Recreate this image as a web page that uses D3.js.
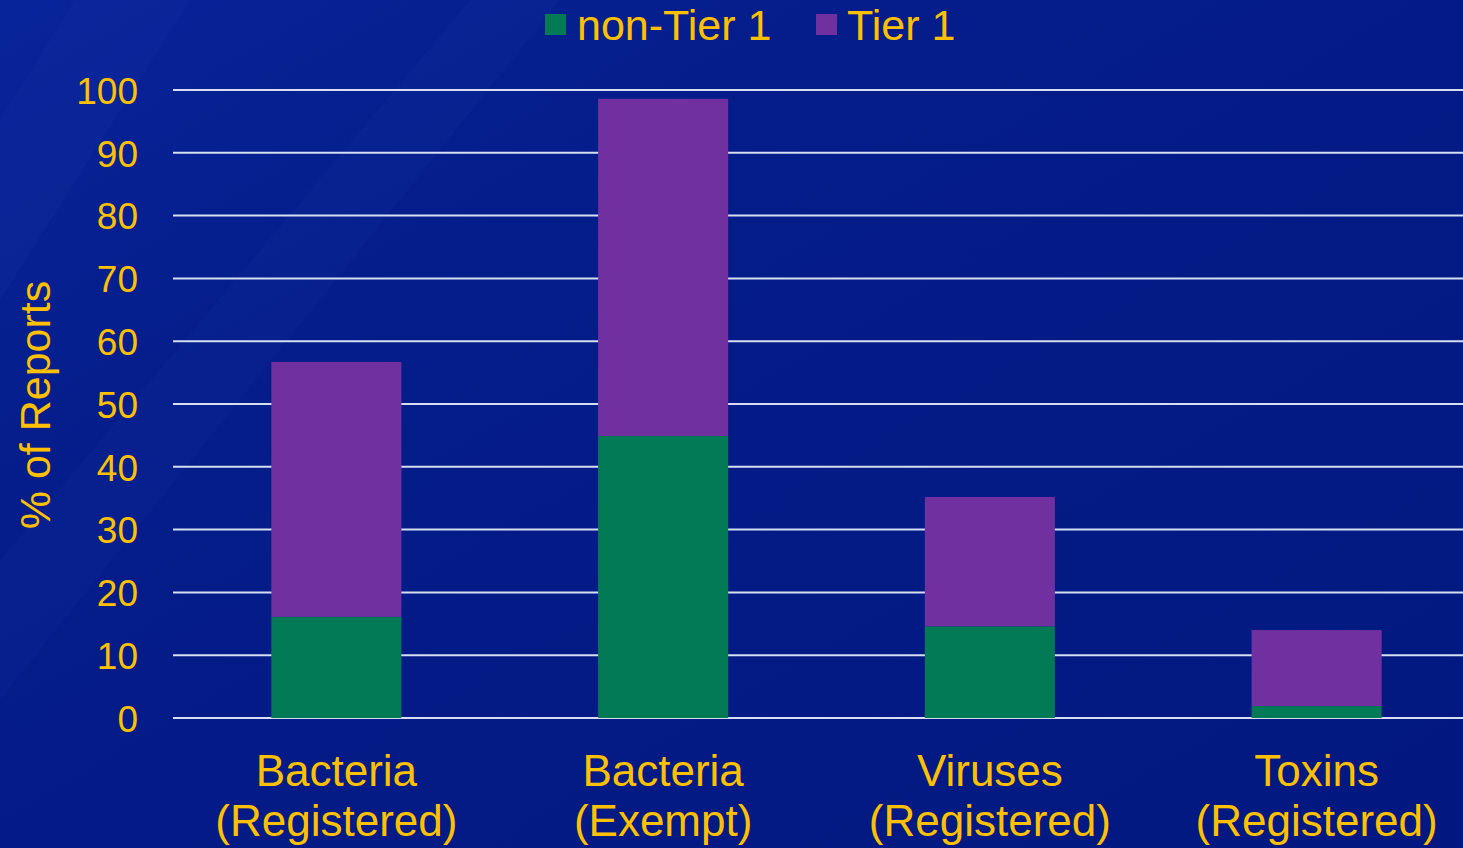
<!DOCTYPE html>
<html>
<head>
<meta charset="utf-8">
<script src="https://cdn.jsdelivr.net/npm/d3@7"></script>
<style>
  body { margin: 0; background: #041a82; overflow: hidden; }
  text { font-family: "Liberation Sans", Arial, sans-serif; fill: #ffc000; }
</style>
</head>
<body>
<div id="container"></div>
<script>
/* CONSTANTS AND GLOBALS */
const width = 1463,
  height = 848,
  margin = {top: 90, bottom: 130, left: 173, right: -17};

/* DATA */
const categories = [["Bacteria", "(Registered)"], ["Bacteria", "(Exempt)"], ["Viruses", "(Registered)"], ["Toxins", "(Registered)"]];
const nonTier1 = [16.1, 44.9, 14.6, 1.9];
const tier1 = [40.6, 53.7, 20.6, 12.1];
const yTicks = [0, 10, 20, 30, 40, 50, 60, 70, 80, 90, 100];
const seriesNames = ["non-Tier 1", "Tier 1"];
const colors = ["#017a55", "#7030a0"];

const data = categories.map((c, i) => ({key: i, label: c, nonTier1: nonTier1[i], tier1: tier1[i]}));
const stacked = d3.stack().keys(["nonTier1", "tier1"])(data);

/* SVG */
const svg = d3.select("#container")
  .append("svg")
  .attr("width", width)
  .attr("height", height);

// background
const defs = svg.append("defs");
const bg = defs.append("linearGradient")
  .attr("id", "bg").attr("x1", 0).attr("y1", 0).attr("x2", 1).attr("y2", 1);
bg.append("stop").attr("offset", "0%").attr("stop-color", "#08249a");
bg.append("stop").attr("offset", "30%").attr("stop-color", "#051d8a");
bg.append("stop").attr("offset", "100%").attr("stop-color", "#021880");

svg.append("rect")
  .attr("width", width).attr("height", height)
  .attr("fill", "url(#bg)");

// faint diagonal streaks like the slide background
svg.append("path")
  .attr("d", "M0,120 L75,0 L190,0 L0,300 Z")
  .attr("fill", "#1a3aa8").attr("opacity", 0.18);
svg.append("path")
  .attr("d", "M0,560 L470,0 L560,0 L0,700 Z")
  .attr("fill", "#1a3aa8").attr("opacity", 0.12);

// SCALES
const xScale = d3.scaleBand()
  .domain(data.map(d => d.key))
  .range([margin.left, width - margin.right])
  .paddingInner(0.602)
  .paddingOuter(0.301);

const yScale = d3.scaleLinear()
  .domain([0, 100])
  .range([height - margin.bottom, margin.top]);

// GRIDLINES
svg.append("g")
  .selectAll("line")
  .data(yTicks)
  .join("line")
  .attr("x1", margin.left)
  .attr("x2", width)
  .attr("y1", d => yScale(d))
  .attr("y2", d => yScale(d))
  .attr("stroke", "#d6def2")
  .attr("stroke-width", 2);

// Y AXIS LABELS
const yAxis = d3.axisLeft(yScale)
  .tickValues(yTicks)
  .tickSize(0)
  .tickPadding(0);

const yAxisGroup = svg.append("g")
  .attr("transform", `translate(${138}, 0)`)
  .call(yAxis);
yAxisGroup.select(".domain").remove();
yAxisGroup.selectAll("text")
  .attr("font-size", 37)
  .attr("dy", "0.36em")
  .attr("fill", "#ffc000");

svg.append("text")
  .attr("transform", `translate(${50}, ${405}) rotate(-90)`)
  .attr("text-anchor", "middle")
  .attr("font-size", 43)
  .text("% of Reports");

// BARS
svg.append("g")
  .selectAll("g")
  .data(stacked)
  .join("g")
  .attr("fill", (d, i) => colors[i])
  .selectAll("rect")
  .data(d => d)
  .join("rect")
  .attr("x", d => xScale(d.data.key))
  .attr("width", xScale.bandwidth())
  .attr("y", d => yScale(d[1]))
  .attr("height", d => yScale(d[0]) - yScale(d[1]));

// X AXIS LABELS
const xLabels = svg.append("g")
  .selectAll("text")
  .data(data)
  .join("text")
  .attr("x", d => xScale(d.key) + xScale.bandwidth() / 2)
  .attr("y", 786)
  .attr("text-anchor", "middle")
  .attr("font-size", 44);
xLabels.append("tspan")
  .attr("x", d => xScale(d.key) + xScale.bandwidth() / 2)
  .text(d => d.label[0]);
xLabels.append("tspan")
  .attr("x", d => xScale(d.key) + xScale.bandwidth() / 2)
  .attr("dy", 50)
  .text(d => d.label[1]);

// LEGEND
const legendX = [545, 816];
const legend = svg.append("g")
  .selectAll("g")
  .data(seriesNames)
  .join("g")
  .attr("transform", (d, i) => `translate(${legendX[i]}, 14)`);
legend.append("rect")
  .attr("width", 21).attr("height", 21)
  .attr("fill", (d, i) => colors[i]);
legend.append("text")
  .attr("x", d => d === "Tier 1" ? 31 : 32)
  .attr("y", 26)
  .attr("font-size", 43)
  .text(d => d);
</script>
</body>
</html>
